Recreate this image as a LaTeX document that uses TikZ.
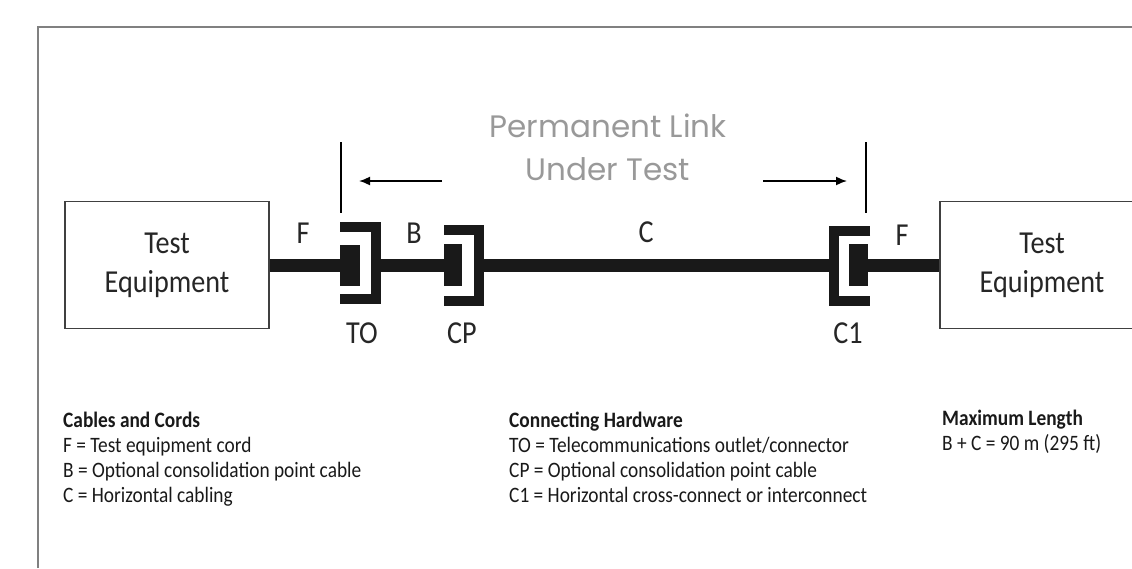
\documentclass[tikz,border=0pt]{standalone}
\usepackage{fontspec}
\setmainfont[FakeStretch=0.88]{Carlito}
\newfontfamily\titlefont{Poppins}
\usetikzlibrary{arrows.meta}

\begin{document}
\begin{tikzpicture}[x=1pt, y=-1pt,
	equip/.style = {draw=black!75, line width=1.6pt, minimum width=204pt, minimum height=127pt, align=center, text=black!85, font=\fontsize{32}{39}\selectfont},
	plug/.style = {fill=black!90, inner sep=0pt},
	lbl/.style = {inner sep=0pt, text=black!85, font=\fontsize{32}{38}\selectfont},
	legend/.style = {anchor=north west, align=left, inner sep=0pt, text=black!90, font=\fontsize{22}{25}\selectfont}]
	\tikzstyle{cable}=[black!90, line width=13pt]
	\tikzstyle{bracket}=[black!90, line width=9.5pt, line join=miter]
	\tikzstyle{marker}=[black, line width=1.6pt]
	\tikzstyle{pointer}=[black, line width=1.6pt, -{Latex[length=11pt, width=9pt]}]
	\useasboundingbox (0,0) rectangle (1132,568);
	\draw[black!50, line width=2pt] (38,568) -- (38,27) -- (1132,27);
	% equipment at both ends
	\node (teL) at (167,265) [equip] {Test\\Equipment};
	\node (teR) at (1042,265) [equip] {Test\\Equipment};
	% plugs and jacks
	\node (toPlug) at (350,265) [plug, minimum width=20pt, minimum height=41pt] {};
	\node (cpPlug) at (453,265) [plug, minimum width=18pt, minimum height=42pt] {};
	\node (clPlug) at (858.5,265) [plug, minimum width=19pt, minimum height=42pt] {};
	\draw[bracket] (340,227) -- (376,227) -- (376,299) -- (340,299);
	\draw[bracket] (444,230) -- (479,230) -- (479,301) -- (444,301);
	\draw[bracket] (870,231) -- (834,231) -- (834,301) -- (870,301);
	\coordinate (toBack) at (380,265);
	\coordinate (cpBack) at (483,265);
	\coordinate (clBack) at (830,265);
	\draw[cable] (teL.east) -- (toPlug.west);
	\draw[cable] (toBack) -- (cpPlug.west);
	\draw[cable] (cpBack) -- (clBack);
	\draw[cable] (clPlug.east) -- (teR.west);
	% cable and hardware labels
	\node (lblF1) at (303,233) [lbl] {F};
	\node (lblB) at (414,233) [lbl] {B};
	\node (lblC) at (646,232) [lbl] {C};
	\node (lblF2) at (902,235) [lbl] {F};
	\node (lblTO) at (362,333) [lbl] {TO};
	\node (lblCP) at (462,333) [lbl] {CP};
	\node (lblCl) at (848,333) [lbl] {C1};
	% link under test
	\coordinate (linkL) at (341,142);
	\coordinate (linkR) at (866,142);
	\draw[marker] (linkL) -- ++(0,71);
	\draw[marker] (linkR) -- ++(0,71);
	\node (title) at (608,114) [anchor=north, align=center, inner sep=0pt, text=black!40, font=\titlefont\fontsize{31}{43}\selectfont] {Permanent Link\\Under Test};
	\coordinate (arrL) at (442,181);
	\coordinate (arrR) at (763,181);
	\draw[pointer] (arrL) -- ([xshift=18pt]linkL |- arrL);
	\draw[pointer] (arrR) -- ([xshift=-19pt]linkR |- arrR);
	% legend
	\node (keyCables) at (63,412) [legend] {\textbf{Cables and Cords}\\F = Test equipment cord\\B = Optional consolidation point cable\\C = Horizontal cabling};
	\node (keyHardware) at (509,412) [legend] {\textbf{Connecting Hardware}\\TO = Telecommunications outlet/connector\\CP = Optional consolidation point cable\\C1 = Horizontal cross-connect or interconnect};
	\node (keyLength) at (942,410) [legend] {\textbf{Maximum Length}\\B + C = 90 m (295 ft)};
\end{tikzpicture}
\end{document}
